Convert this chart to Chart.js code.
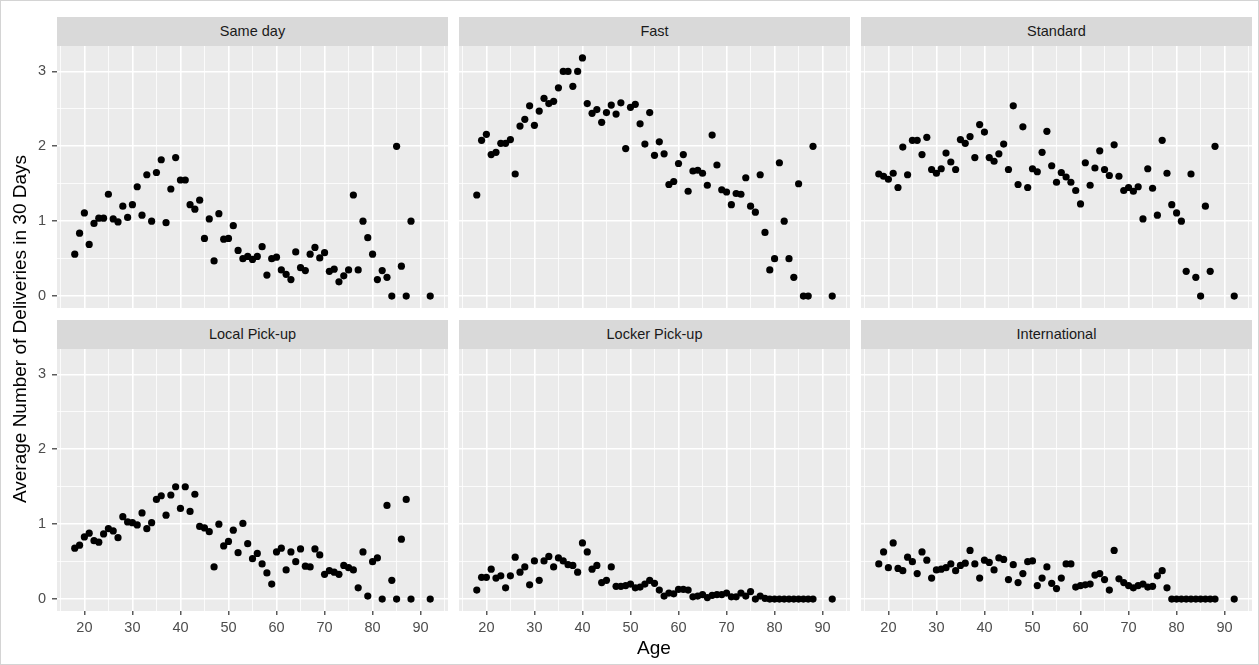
<!DOCTYPE html>
<html>
<head>
<meta charset="utf-8">
<script src="https://cdn.jsdelivr.net/npm/chart.js"></script>
<style>
  body { margin: 0; background: #fff; font-family: "Liberation Sans", Arial, sans-serif; }
  #page { position: relative; width: 1259px; height: 665px; overflow: hidden; }
  canvas { position: absolute; }
  .strip { position: absolute; height: 29px; line-height: 29px; background: #d9d9d9; color: #1a1a1a;
           font-size: 14.5px; text-align: center; }
  .ytitle { position: absolute; width: 600px; text-align: center; font-size: 19px; color: #000;
            transform: rotate(-90deg); }
  .xtitle { position: absolute; width: 200px; text-align: center; font-size: 19px; color: #000; }
  .frame { position: absolute; left: 0; top: 0; width: 1257px; height: 663px; border: 1px solid #d4d4d4; }
</style>
</head>
<body>
<div id="page"></div>
<script>
// ages observed (one point per age per delivery type)
const ages = [18, 19, 20, 21, 22, 23, 24, 25, 26, 27, 28, 29, 30, 31, 32, 33, 34, 35, 36, 37,
  38, 39, 40, 41, 42, 43, 44, 45, 46, 47, 48, 49, 50, 51, 52, 53, 54, 55, 56, 57,
  58, 59, 60, 61, 62, 63, 64, 65, 66, 67, 68, 69, 70, 71, 72, 73, 74, 75, 76, 77,
  78, 79, 80, 81, 82, 83, 84, 85, 86, 87, 88, 92];

const facetNames = ['Same day', 'Fast', 'Standard', 'Local Pick-up', 'Locker Pick-up', 'International'];

const sameDay = [0.56, 0.84, 1.11, 0.69, 0.97, 1.04, 1.04, 1.36, 1.03, 0.99, 1.20, 1.05, 1.22, 1.46, 1.08, 1.62, 1.00, 1.65, 1.82, 0.98,
  1.43, 1.85, 1.55, 1.55, 1.22, 1.16, 1.28, 0.77, 1.03, 0.47, 1.10, 0.76, 0.77, 0.94, 0.61, 0.50, 0.53, 0.49, 0.53, 0.66,
  0.28, 0.50, 0.52, 0.35, 0.29, 0.22, 0.59, 0.38, 0.34, 0.56, 0.65, 0.51, 0.58, 0.33, 0.36, 0.19, 0.27, 0.35, 1.35, 0.35,
  1.00, 0.78, 0.56, 0.22, 0.34, 0.25, 0.00, 2.00, 0.40, 0.00, 1.00, 0.00];

const fast = [1.35, 2.08, 2.16, 1.89, 1.92, 2.04, 2.04, 2.09, 1.63, 2.27, 2.36, 2.54, 2.28, 2.47, 2.64, 2.57, 2.60, 2.78, 3.00, 3.00,
  2.80, 3.00, 3.18, 2.57, 2.44, 2.49, 2.32, 2.45, 2.55, 2.43, 2.58, 1.97, 2.52, 2.56, 2.30, 2.03, 2.45, 1.88, 2.06, 1.90,
  1.49, 1.53, 1.77, 1.89, 1.40, 1.67, 1.68, 1.64, 1.48, 2.15, 1.75, 1.42, 1.39, 1.22, 1.37, 1.36, 1.58, 1.20, 1.12, 1.62,
  0.85, 0.35, 0.50, 1.78, 1.00, 0.50, 0.25, 1.50, 0.00, 0.00, 2.00, 0.00];

const standard = [1.63, 1.60, 1.56, 1.64, 1.45, 1.99, 1.62, 2.08, 2.08, 1.89, 2.12, 1.69, 1.64, 1.70, 1.91, 1.79, 1.69, 2.09, 2.04, 2.13,
  1.85, 2.29, 2.19, 1.85, 1.80, 1.90, 2.03, 1.69, 2.54, 1.49, 2.26, 1.45, 1.70, 1.66, 1.92, 2.20, 1.74, 1.52, 1.65, 1.59,
  1.52, 1.41, 1.23, 1.78, 1.48, 1.71, 1.94, 1.69, 1.61, 2.02, 1.60, 1.41, 1.45, 1.40, 1.46, 1.03, 1.70, 1.44, 1.08, 2.08,
  1.64, 1.22, 1.11, 1.00, 0.33, 1.63, 0.25, 0.00, 1.20, 0.33, 2.00, 0.00];

const localPickup = [0.68, 0.72, 0.83, 0.88, 0.78, 0.76, 0.87, 0.94, 0.91, 0.82, 1.10, 1.03, 1.02, 0.99, 1.15, 0.94, 1.02, 1.33, 1.38, 1.12,
  1.39, 1.50, 1.21, 1.50, 1.17, 1.40, 0.97, 0.95, 0.90, 0.43, 1.00, 0.71, 0.77, 0.92, 0.62, 1.01, 0.74, 0.54, 0.61, 0.47,
  0.35, 0.20, 0.63, 0.68, 0.39, 0.63, 0.50, 0.67, 0.44, 0.43, 0.67, 0.59, 0.33, 0.38, 0.36, 0.33, 0.45, 0.42, 0.39, 0.15,
  0.63, 0.04, 0.50, 0.55, 0.00, 1.25, 0.25, 0.00, 0.80, 1.33, 0.00, 0.00];

const lockerPickup = [0.12, 0.29, 0.29, 0.40, 0.28, 0.31, 0.15, 0.31, 0.56, 0.36, 0.43, 0.19, 0.51, 0.25, 0.51, 0.57, 0.43, 0.55, 0.51, 0.46,
  0.45, 0.36, 0.75, 0.63, 0.40, 0.45, 0.22, 0.25, 0.43, 0.17, 0.17, 0.18, 0.20, 0.15, 0.16, 0.20, 0.25, 0.21, 0.12, 0.04,
  0.08, 0.07, 0.13, 0.13, 0.12, 0.03, 0.04, 0.06, 0.02, 0.05, 0.06, 0.06, 0.08, 0.03, 0.03, 0.08, 0.04, 0.10, 0.00, 0.04,
  0.01, 0.00, 0.00, 0.00, 0.00, 0.00, 0.00, 0.00, 0.00, 0.00, 0.00, 0.00];

const international = [0.47, 0.63, 0.42, 0.75, 0.41, 0.38, 0.56, 0.50, 0.34, 0.63, 0.52, 0.28, 0.39, 0.40, 0.42, 0.47, 0.38, 0.45, 0.48, 0.65,
  0.47, 0.28, 0.52, 0.49, 0.39, 0.55, 0.53, 0.26, 0.46, 0.22, 0.34, 0.50, 0.51, 0.18, 0.28, 0.43, 0.21, 0.14, 0.28, 0.47,
  0.47, 0.16, 0.18, 0.19, 0.20, 0.32, 0.34, 0.26, 0.12, 0.65, 0.27, 0.22, 0.18, 0.15, 0.18, 0.20, 0.16, 0.17, 0.31, 0.38,
  0.15, 0.00, 0.00, 0.00, 0.00, 0.00, 0.00, 0.00, 0.00, 0.00, 0.00, 0.00];

const seriesByFacet = [sameDay, fast, standard, localPickup, lockerPickup, international];

// axis ticks: labelled majors plus the minor grid in between
const xGridVals = [15, 20, 25, 30, 35, 40, 45, 50, 55, 60, 65, 70, 75, 80, 85, 90, 95];
const xTickLabels = [20, 30, 40, 50, 60, 70, 80, 90];
const yGridVals = [0, 0.5, 1, 1.5, 2, 2.5, 3];
const yTickLabels = [0, 1, 2, 3];

const yTitle = 'Average Number of Deliveries in 30 Days';
const xTitle = 'Age';

// ---- layout (pixels) ----
const colLeft = [57, 459, 861];
const panelW = 391;
const rowTop = [46, 349];
const panelH = 262;
const stripH = 29;
const yAxisW = 57;
const xAxisH = 40;

Chart.defaults.font.family = '"Liberation Sans", Arial, sans-serif';

const page = document.getElementById('page');

const panelBg = {
  id: 'panelBg',
  beforeDraw(chart) {
    const { ctx, chartArea: a } = chart;
    ctx.save();
    ctx.fillStyle = '#ebebeb';
    ctx.fillRect(a.left, a.top, a.right - a.left, a.bottom - a.top);
    ctx.restore();
  }
};

function noPad(s) {
  s.paddingTop = 0; s.paddingBottom = 0; s.paddingLeft = 0; s.paddingRight = 0;
}

function makeChart(idx) {
  const col = idx % 3, row = Math.floor(idx / 3);
  const showY = col === 0, showX = row === 1;

  const cv = document.createElement('canvas');
  const w = panelW + (showY ? yAxisW : 0);
  const h = panelH + (showX ? xAxisH : 0);
  cv.width = w; cv.height = h;
  cv.style.width = w + 'px'; cv.style.height = h + 'px';
  cv.style.left = (showY ? colLeft[col] - yAxisW : colLeft[col]) + 'px';
  cv.style.top = rowTop[row] + 'px';
  page.appendChild(cv);

  const strip = document.createElement('div');
  strip.className = 'strip';
  strip.style.left = colLeft[col] + 'px';
  strip.style.top = (rowTop[row] - stripH) + 'px';
  strip.style.width = panelW + 'px';
  strip.textContent = facetNames[idx];
  page.appendChild(strip);

  const vals = seriesByFacet[idx];
  const pts = ages.map((a, i) => ({ x: a, y: vals[i] }));

  new Chart(cv, {
    type: 'scatter',
    data: { datasets: [{ data: pts, backgroundColor: '#000', borderWidth: 0, pointRadius: 3.6 }] },
    options: {
      responsive: false,
      devicePixelRatio: 1,
      animation: false,
      events: [],
      layout: { padding: 0, autoPadding: false },
      plugins: { legend: { display: false }, tooltip: { enabled: false } },
      scales: {
        x: {
          type: 'linear', min: 14.3, max: 95.7,
          afterBuildTicks: s => { s.ticks = xGridVals.map(v => ({ value: v })); },
          afterFit: s => { s.height = showX ? xAxisH : 0; noPad(s); },
          border: { display: false },
          grid: {
            color: '#ffffff',
            lineWidth: c => (c.tick && xTickLabels.includes(c.tick.value)) ? 1.6 : 0.8,
            drawTicks: showX,
            tickLength: 4,
            tickWidth: 1.2,
            tickColor: c => (c.tick && xTickLabels.includes(c.tick.value)) ? '#333333' : 'rgba(0,0,0,0)'
          },
          ticks: {
            display: showX, autoSkip: false, maxRotation: 0, padding: 4,
            color: '#4d4d4d', font: { size: 14.5 },
            callback: v => xTickLabels.includes(v) ? String(v) : ''
          }
        },
        y: {
          type: 'linear', min: -0.159, max: 3.339,
          afterBuildTicks: s => { s.ticks = yGridVals.map(v => ({ value: v })); },
          afterFit: s => { s.width = showY ? yAxisW : 0; noPad(s); },
          border: { display: false },
          grid: {
            color: '#ffffff',
            lineWidth: c => (c.tick && yTickLabels.includes(c.tick.value)) ? 1.6 : 0.8,
            drawTicks: showY,
            tickLength: 5,
            tickWidth: 1.2,
            tickColor: c => (c.tick && yTickLabels.includes(c.tick.value)) ? '#333333' : 'rgba(0,0,0,0)'
          },
          ticks: {
            display: showY, autoSkip: false, padding: 6,
            color: '#4d4d4d', font: { size: 14.5 },
            callback: v => yTickLabels.includes(v) ? String(v) : ''
          }
        }
      }
    },
    plugins: [panelBg]
  });
}

for (let i = 0; i < facetNames.length; i++) makeChart(i);

// shared axis titles
const yt = document.createElement('div');
yt.className = 'ytitle';
yt.textContent = yTitle;
yt.style.left = (20 - 300) + 'px';
yt.style.top = (329 - 11) + 'px';
page.appendChild(yt);

const xt = document.createElement('div');
xt.className = 'xtitle';
xt.textContent = xTitle;
xt.style.left = (654 - 100) + 'px';
xt.style.top = (637) + 'px';
page.appendChild(xt);

const frame = document.createElement('div');
frame.className = 'frame';
page.appendChild(frame);
</script>
</body>
</html>
